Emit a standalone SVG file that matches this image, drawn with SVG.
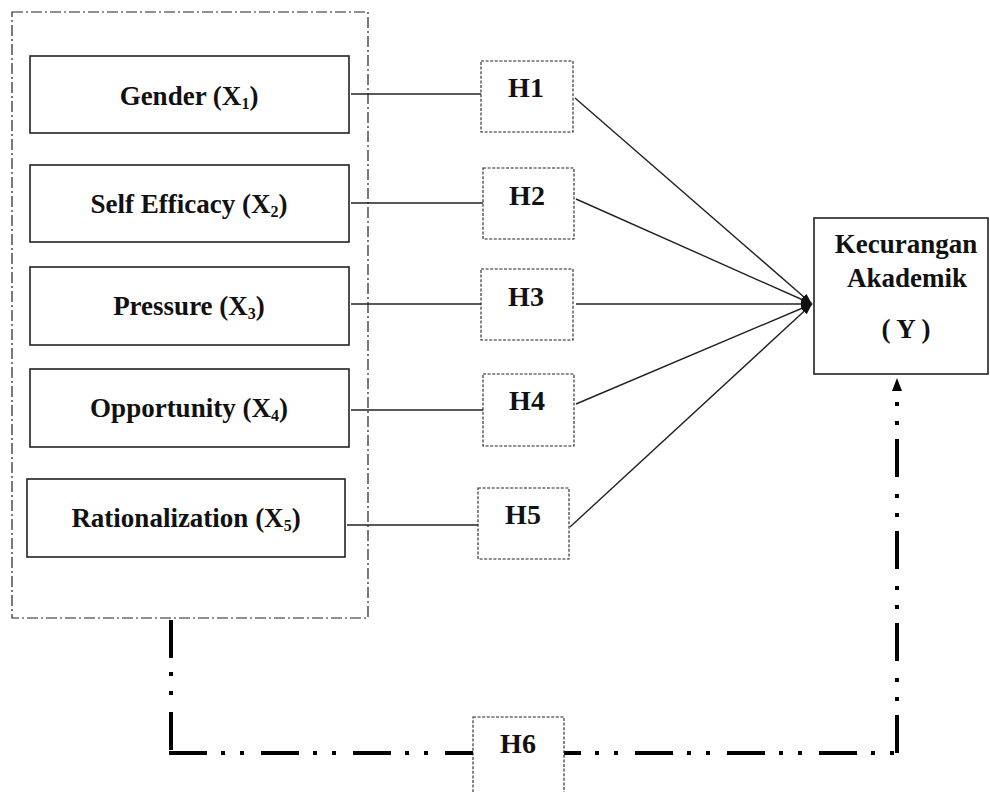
<svg xmlns="http://www.w3.org/2000/svg" width="990" height="792" viewBox="0 0 990 792">
<defs>
<style>
.bg{fill:#ffffff}
.node{fill:#ffffff;stroke:#222;stroke-width:1.6}
.hyp{fill:#ffffff;stroke:#222;stroke-width:1.1;stroke-dasharray:3 1.6}
.group{fill:none;stroke:#222;stroke-width:1.2;stroke-dasharray:11 3 2 3}
.lbl{font-family:"Liberation Serif","Times New Roman",serif;font-weight:bold;font-size:27px;fill:#111;text-anchor:middle}
.hl{font-family:"Liberation Serif","Times New Roman",serif;font-weight:bold;font-size:28px;fill:#111;text-anchor:middle}
.thin{fill:none;stroke:#222;stroke-width:1.4}
.thick{fill:none;stroke:#000;stroke-width:4;stroke-dasharray:38 14 4 15 4 17}
</style>
<marker id="ah" markerUnits="userSpaceOnUse" markerWidth="11" markerHeight="8" refX="11" refY="4" orient="auto">
<path d="M0,0 L11,4 L0,8 z" fill="#111"/>
</marker>
</defs>
<rect class="bg" x="0" y="0" width="990" height="792"/>

<g id="group-box">
<rect class="group" x="12" y="12" width="356" height="606"/>
</g>

<g id="connectors">
<line class="thin" x1="351" y1="94" x2="481" y2="94"/>
<line class="thin" x1="351" y1="203" x2="483" y2="203"/>
<line class="thin" x1="351" y1="304" x2="481" y2="304"/>
<line class="thin" x1="351" y1="410" x2="483" y2="410"/>
<line class="thin" x1="347" y1="525" x2="478" y2="525"/>
<line class="thin" x1="575" y1="98" x2="812" y2="304" marker-end="url(#ah)"/>
<line class="thin" x1="576" y1="199" x2="812" y2="304" marker-end="url(#ah)"/>
<line class="thin" x1="576" y1="304" x2="812" y2="304" marker-end="url(#ah)"/>
<line class="thin" x1="576" y1="404" x2="812" y2="304" marker-end="url(#ah)"/>
<line class="thin" x1="570" y1="527" x2="812" y2="304" marker-end="url(#ah)"/>
<path class="thick" d="M171,620 V753"/>
<path class="thick" d="M169,753 H473"/>
<path class="thick" d="M564,753 H897" stroke-dashoffset="21"/>
<path class="thick" d="M897,753 V390"/>
<polygon points="897,378 902,391 892,391" fill="#000"/>
</g>

<g id="x1">
<rect class="node" x="30" y="56" width="319" height="77"/>
<text class="lbl" x="189" y="105">Gender (X<tspan font-size="16" dy="4">1</tspan><tspan dy="-4">)</tspan></text>
</g>
<g id="x2">
<rect class="node" x="30" y="165" width="319" height="77"/>
<text class="lbl" x="189" y="213">Self Efficacy (X<tspan font-size="16" dy="4">2</tspan><tspan dy="-4">)</tspan></text>
</g>
<g id="x3">
<rect class="node" x="30" y="267" width="319" height="78"/>
<text class="lbl" x="189" y="315">Pressure (X<tspan font-size="16" dy="4">3</tspan><tspan dy="-4">)</tspan></text>
</g>
<g id="x4">
<rect class="node" x="30" y="369" width="319" height="78"/>
<text class="lbl" x="189" y="417">Opportunity (X<tspan font-size="16" dy="4">4</tspan><tspan dy="-4">)</tspan></text>
</g>
<g id="x5">
<rect class="node" x="27" y="479" width="318" height="78"/>
<text class="lbl" x="186" y="527">Rationalization (X<tspan font-size="16" dy="4">5</tspan><tspan dy="-4">)</tspan></text>
</g>

<g id="h1">
<rect class="hyp" x="481" y="61" width="92" height="71"/>
<text class="hl" x="526" y="97">H1</text>
</g>
<g id="h2">
<rect class="hyp" x="483" y="168" width="91" height="71"/>
<text class="hl" x="527" y="205">H2</text>
</g>
<g id="h3">
<rect class="hyp" x="481" y="269" width="92" height="71"/>
<text class="hl" x="526" y="306">H3</text>
</g>
<g id="h4">
<rect class="hyp" x="483" y="374" width="91" height="72"/>
<text class="hl" x="527" y="410">H4</text>
</g>
<g id="h5">
<rect class="hyp" x="478" y="488" width="91" height="71"/>
<text class="hl" x="523" y="524">H5</text>
</g>
<g id="h6">
<rect class="hyp" x="473" y="717" width="91" height="80"/>
<text class="hl" x="518" y="753">H6</text>
</g>

<g id="y">
<rect class="node" x="814" y="218" width="174" height="156"/>
<text class="lbl" x="906" y="253">Kecurangan</text>
<text class="lbl" x="907" y="287">Akademik</text>
<text class="lbl" x="906" y="338">( Y )</text>
</g>
</svg>
